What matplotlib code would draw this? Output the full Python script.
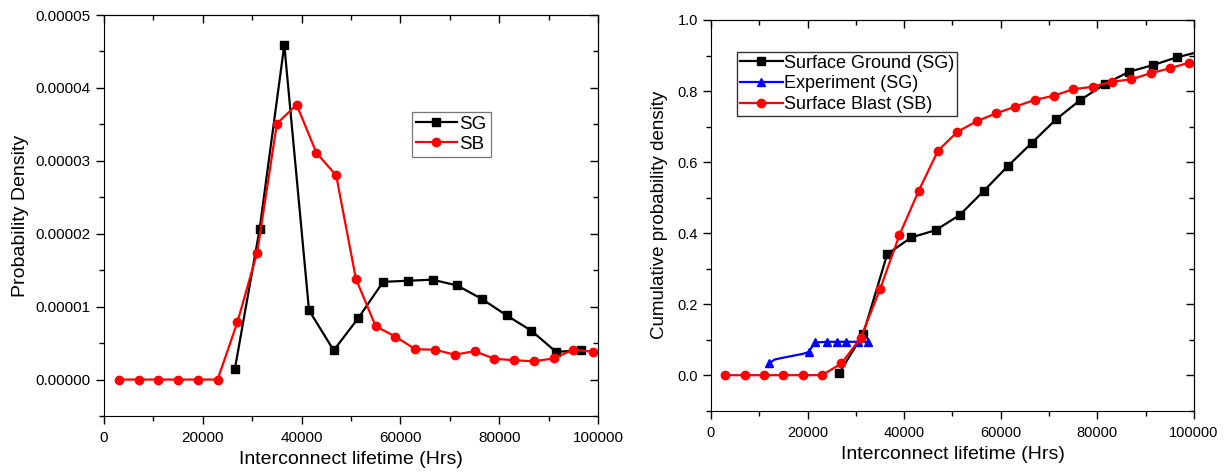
import matplotlib
matplotlib.use("Agg")
import matplotlib.pyplot as plt
from matplotlib.ticker import MultipleLocator, FormatStrFormatter

plt.rcParams["font.family"] = ["Liberation Sans", "DejaVu Sans"]

# Probability density (left panel)
sg_x = [26500, 31500, 36500, 41500, 46500, 51500, 56500, 61500,
        66500, 71500, 76500, 81500, 86500, 91500, 96500]
sg_pdf = [1.46e-6, 2.06e-5, 4.59e-5, 9.5e-6, 4.0e-6, 8.45e-6, 1.34e-5, 1.355e-5,
          1.37e-5, 1.29e-5, 1.105e-5, 8.8e-6, 6.7e-6, 3.8e-6, 4.0e-6]

sb_x = [3000, 7000, 11000, 15000, 19000, 23000, 27000, 31000, 35000,
        39000, 43000, 47000, 51000, 55000, 59000, 63000, 67000, 71000,
        75000, 79000, 83000, 87000, 91000, 95000, 99000]
sb_pdf = [0, 0, 0, 0, 0, 0, 7.85e-6, 1.74e-5, 3.51e-5,
          3.77e-5, 3.11e-5, 2.80e-5, 1.38e-5, 7.3e-6, 5.9e-6, 4.15e-6, 4.1e-6, 3.4e-6,
          3.9e-6, 2.85e-6, 2.65e-6, 2.5e-6, 2.9e-6, 4.1e-6, 3.8e-6]

# Cumulative distribution (right panel)
sg_cdf_x = sg_x + [101500]
sg_cdf = [0.005, 0.115, 0.341, 0.388, 0.408, 0.451, 0.519, 0.589,
          0.655, 0.721, 0.775, 0.819, 0.854, 0.873, 0.895, 0.912]

sb_cdf = [0, 0, 0, 0, 0, 0, 0.033, 0.105, 0.242,
          0.394, 0.519, 0.632, 0.685, 0.715, 0.737, 0.756, 0.775, 0.787,
          0.805, 0.812, 0.826, 0.833, 0.850, 0.864, 0.880]

exp_x = [12100, 13200, 14500, 16000, 17500, 19000, 20200, 21500,
         24000, 26000, 28000, 30500, 32500]
exp_cdf = [0.034, 0.044, 0.048, 0.052, 0.056, 0.060, 0.065, 0.092,
           0.094, 0.094, 0.094, 0.094, 0.093]
exp_marks = [0, 6, 7, 8, 9, 10, 11, 12]


def style_axes(ax, tick_size):
    ax.tick_params(which="both", direction="out", top=False, right=False,
                   labelsize=tick_size, width=1.0)
    ax.tick_params(which="major", length=6)
    ax.tick_params(which="minor", length=3.5)
    # Origin-style inner ticks on the opposite spines
    sec = ax.secondary_xaxis("top")
    sec.xaxis.set_major_locator(ax.xaxis.get_major_locator())
    sec.xaxis.set_minor_locator(ax.xaxis.get_minor_locator())
    sec.tick_params(which="both", direction="in", labeltop=False, width=1.0)
    sec.tick_params(which="major", length=6)
    sec.tick_params(which="minor", length=3.5)
    secy = ax.secondary_yaxis("right")
    secy.yaxis.set_major_locator(ax.yaxis.get_major_locator())
    secy.yaxis.set_minor_locator(ax.yaxis.get_minor_locator())
    secy.tick_params(which="both", direction="in", labelright=False, width=1.0)
    secy.tick_params(which="major", length=6)
    secy.tick_params(which="minor", length=3.5)


fig = plt.figure(figsize=(12.29, 4.75), dpi=100)

ax1 = fig.add_axes([0.0846, 0.1242, 0.402, 0.8442])
ax1.plot(sg_x, sg_pdf, color="black", lw=1.6, marker="s", ms=5.5, label="SG")
ax1.plot(sb_x, sb_pdf, color="red", lw=1.6, marker="o", ms=6, label="SB")
ax1.set_xlim(0, 100000)
ax1.set_ylim(-0.000005, 0.00005)
ax1.xaxis.set_major_locator(MultipleLocator(20000))
ax1.xaxis.set_minor_locator(MultipleLocator(10000))
ax1.yaxis.set_major_locator(MultipleLocator(0.00001))
ax1.yaxis.set_minor_locator(MultipleLocator(0.000005))
ax1.yaxis.set_major_formatter(FormatStrFormatter("%.5f"))
ax1.tick_params(axis="x", pad=5)
ax1.set_xlabel("Interconnect lifetime (Hrs)", fontsize=14, labelpad=4)
ax1.set_ylabel("Probability Density", fontsize=14, labelpad=5)
style_axes(ax1, 11)
leg1 = ax1.legend(loc="upper left", bbox_to_anchor=(0.623, 0.758), fontsize=13.5,
                  frameon=True, fancybox=False, edgecolor="#555555",
                  handlelength=2.2, handletextpad=0.15, borderpad=0.2,
                  labelspacing=0.15, borderaxespad=0)
leg1.get_frame().set_linewidth(0.9)

ax2 = fig.add_axes([0.5785, 0.1354, 0.393, 0.8225])
ax2.plot(sg_cdf_x, sg_cdf, color="black", lw=1.6, marker="s", ms=5.5,
         label="Surface Ground (SG)")
ax2.plot(exp_x, exp_cdf, color="blue", lw=1.6, marker="^", ms=6,
         markevery=exp_marks, label="Experiment (SG)")
ax2.plot(sb_x, sb_cdf, color="red", lw=1.6, marker="o", ms=6,
         label="Surface Blast (SB)")
ax2.set_xlim(0, 100000)
ax2.set_ylim(-0.1, 1.0)
ax2.xaxis.set_major_locator(MultipleLocator(20000))
ax2.xaxis.set_minor_locator(MultipleLocator(10000))
ax2.yaxis.set_major_locator(MultipleLocator(0.2))
ax2.yaxis.set_minor_locator(MultipleLocator(0.1))
ax2.yaxis.set_major_formatter(FormatStrFormatter("%.1f"))
ax2.tick_params(axis="x", pad=5)
ax2.set_xlabel("Interconnect lifetime (Hrs)", fontsize=14, labelpad=4)
ax2.set_ylabel("Cumulative probability density", fontsize=13.5, labelpad=7)
style_axes(ax2, 10.5)
leg2 = ax2.legend(loc="upper left", bbox_to_anchor=(0.054, 0.918), fontsize=13,
                  frameon=True, fancybox=False, edgecolor="black",
                  handlelength=2.4, handletextpad=0.05, borderpad=0.15,
                  labelspacing=0.2, borderaxespad=0)
leg2.get_frame().set_linewidth(1.0)

fig.savefig("out.png", dpi=100)
